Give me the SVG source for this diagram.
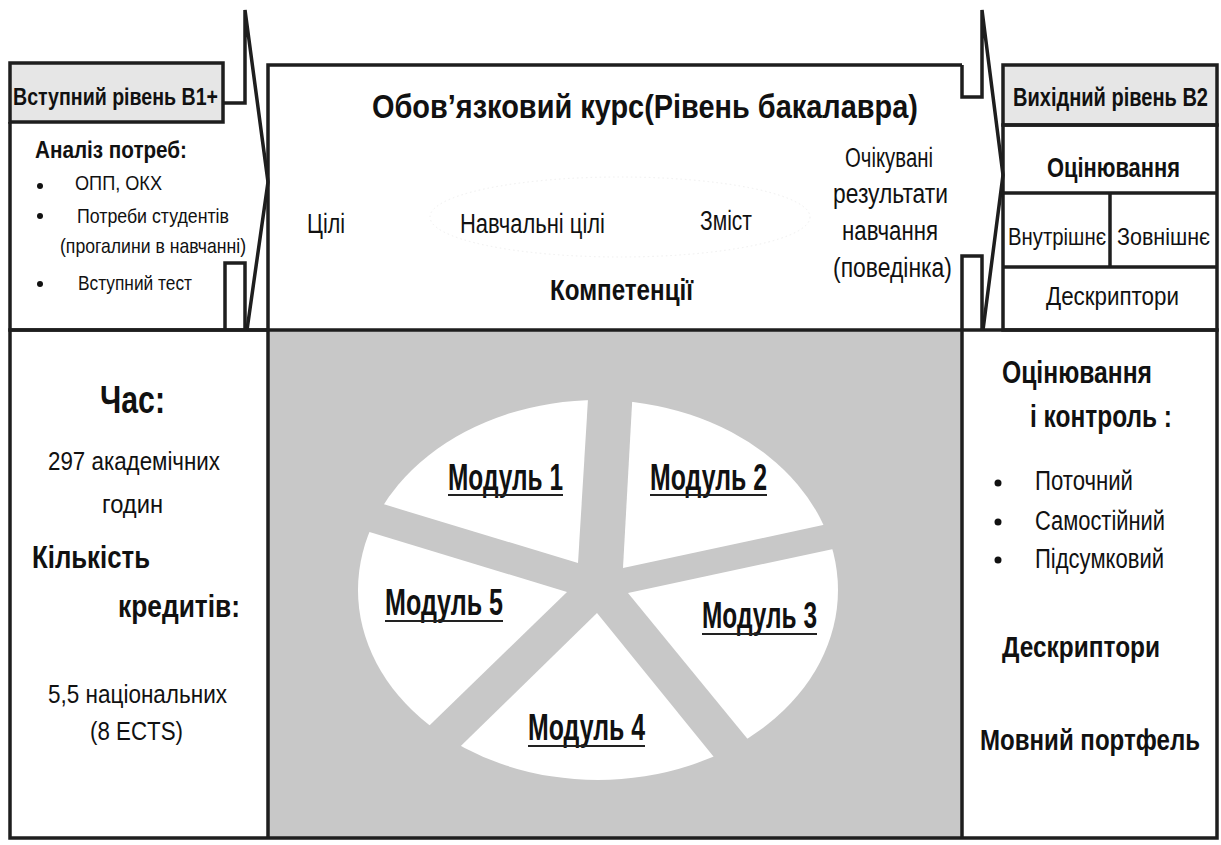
<svg xmlns="http://www.w3.org/2000/svg" width="1221" height="845" viewBox="0 0 1221 845">
<defs>
<style>
.ln{fill:none;stroke:#1e1e1e;stroke-width:3.5;stroke-linejoin:miter}
.bx{stroke:#1e1e1e;stroke-width:3.5}
.t{font-family:"Liberation Sans Narrow","Liberation Sans",Arial,sans-serif;fill:#111}
.b{font-weight:bold}
.ul{stroke:#222;stroke-width:2}
</style>
<clipPath id="pie"><ellipse cx="598" cy="590" rx="240" ry="190"/></clipPath>
</defs>
<rect width="1221" height="845" fill="#fff"/>

<g id="bottom-center">
<rect x="268" y="330" width="694" height="508" fill="#c8c8c8"/>
<g clip-path="url(#pie)" fill="#fff">
<polygon points="578,563 591,350 330,350 330,488"/>
<polygon points="623,568 635,350 870,350 870,515"/>
<polygon points="628,593 870,541 870,820 814,820"/>
<polygon points="597,613 765,820 385,820"/>
<polygon points="567,592 330,520 330,820 332,820"/>
</g>
<g class="t b" font-size="37">
<text x="448" y="490" textLength="115" lengthAdjust="spacingAndGlyphs">Модуль 1</text>
<text x="650" y="490" textLength="117" lengthAdjust="spacingAndGlyphs">Модуль 2</text>
<text x="702" y="628" textLength="115" lengthAdjust="spacingAndGlyphs">Модуль 3</text>
<text x="528" y="740" textLength="117" lengthAdjust="spacingAndGlyphs">Модуль 4</text>
<text x="385" y="615" textLength="118" lengthAdjust="spacingAndGlyphs">Модуль 5</text>
</g>
<line class="ul" x1="448" y1="495" x2="563" y2="495"/>
<line class="ul" x1="650" y1="495" x2="767" y2="495"/>
<line class="ul" x1="702" y1="634" x2="817" y2="634"/>
<line class="ul" x1="528" y1="746" x2="645" y2="746"/>
<line class="ul" x1="385" y1="621" x2="503" y2="621"/>
</g>

<g id="bottom-frame">
<rect class="bx" x="10" y="330" width="1207" height="508" fill="none"/>
<line class="ln" x1="268" y1="330" x2="268" y2="838"/>
<line class="ln" x1="962" y1="330" x2="962" y2="838"/>
</g>

<g id="entry-level">
<rect class="bx" x="10" y="63" width="213" height="59" fill="#e6e6e6"/>
<path class="ln" d="M10,122 V330 H268"/>
<text class="t b" x="13" y="105" font-size="24" textLength="205" lengthAdjust="spacingAndGlyphs">Вступний рівень B1+</text>
<text class="t b" x="35" y="158" font-size="24" textLength="152" lengthAdjust="spacingAndGlyphs">Аналіз потреб:</text>
<g fill="#111"><circle cx="40" cy="186" r="3"/><circle cx="40" cy="216" r="3"/><circle cx="40" cy="284" r="3"/></g>
<text class="t" x="75" y="190" font-size="21" textLength="87" lengthAdjust="spacingAndGlyphs">ОПП, ОКХ</text>
<text class="t" x="77" y="223" font-size="21" textLength="152" lengthAdjust="spacingAndGlyphs">Потреби студентів</text>
<text class="t" x="60" y="253" font-size="21" textLength="186" lengthAdjust="spacingAndGlyphs">(прогалини в навчанні)</text>
<text class="t" x="78" y="290" font-size="21" textLength="114" lengthAdjust="spacingAndGlyphs">Вступний тест</text>
</g>

<g id="course">
<path class="ln" d="M268,330 V65 H962"/>
<ellipse cx="620" cy="217" rx="190" ry="40" fill="none" stroke="#efefef" stroke-width="1" stroke-dasharray="1.5 3"/>
<text class="t b" x="372" y="118" font-size="33" textLength="546" lengthAdjust="spacingAndGlyphs">Обов’язковий курс(Рівень бакалавра)</text>
<text class="t" x="307" y="233" font-size="27" textLength="38" lengthAdjust="spacingAndGlyphs">Цілі</text>
<text class="t" x="460" y="233" font-size="27" textLength="145" lengthAdjust="spacingAndGlyphs">Навчальні цілі</text>
<text class="t" x="700" y="230" font-size="27" textLength="52" lengthAdjust="spacingAndGlyphs">Зміст</text>
<text class="t" x="845" y="167" font-size="27" textLength="88" lengthAdjust="spacingAndGlyphs">Очікувані</text>
<text class="t" x="833" y="203" font-size="27" textLength="115" lengthAdjust="spacingAndGlyphs">результати</text>
<text class="t" x="842" y="240" font-size="27" textLength="96" lengthAdjust="spacingAndGlyphs">навчання</text>
<text class="t" x="833" y="277" font-size="27" textLength="119" lengthAdjust="spacingAndGlyphs">(поведінка)</text>
<text class="t b" x="550" y="300" font-size="30" textLength="143" lengthAdjust="spacingAndGlyphs">Компетенції</text>
</g>

<g id="exit-level">
<rect class="bx" x="1003" y="65" width="214" height="60" fill="#e6e6e6"/>
<rect class="bx" x="1003" y="125" width="214" height="205" fill="none"/>
<line class="ln" x1="1003" y1="193" x2="1217" y2="193"/>
<line class="ln" x1="1003" y1="267" x2="1217" y2="267"/>
<line class="ln" x1="1110" y1="193" x2="1110" y2="267"/>
<text class="t b" transform="translate(1013,106) scale(1,1.4)" x="0" y="0" font-size="19" textLength="195" lengthAdjust="spacingAndGlyphs">Вихідний рівень B2</text>
<text class="t b" x="1047" y="177" font-size="27" textLength="133" lengthAdjust="spacingAndGlyphs">Оцінювання</text>
<text class="t" x="1008" y="245" font-size="24" textLength="98" lengthAdjust="spacingAndGlyphs">Внутрішнє</text>
<text class="t" x="1117" y="245" font-size="24" textLength="93" lengthAdjust="spacingAndGlyphs">Зовнішнє</text>
<text class="t" x="1046" y="305" font-size="25" textLength="133" lengthAdjust="spacingAndGlyphs">Дескриптори</text>
</g>

<g id="time">
<text class="t b" x="100" y="413" font-size="39" textLength="65" lengthAdjust="spacingAndGlyphs">Час:</text>
<text class="t" x="48" y="470" font-size="25" textLength="172" lengthAdjust="spacingAndGlyphs">297 академічних</text>
<text class="t" x="102" y="513" font-size="25" textLength="61" lengthAdjust="spacingAndGlyphs">годин</text>
<text class="t b" x="32" y="568" font-size="31" textLength="118" lengthAdjust="spacingAndGlyphs">Кількість</text>
<text class="t b" x="118" y="617" font-size="31" textLength="122" lengthAdjust="spacingAndGlyphs">кредитів:</text>
<text class="t" x="48" y="703" font-size="25" textLength="179" lengthAdjust="spacingAndGlyphs">5,5 національних</text>
<text class="t" x="90" y="740" font-size="25" textLength="93" lengthAdjust="spacingAndGlyphs">(8 ECTS)</text>
</g>

<g id="assessment">
<text class="t b" x="1002" y="383" font-size="32" textLength="150" lengthAdjust="spacingAndGlyphs">Оцінювання</text>
<text class="t b" x="1030" y="427" font-size="32" textLength="142" lengthAdjust="spacingAndGlyphs">і контроль :</text>
<g fill="#111"><circle cx="998" cy="483" r="3.5"/><circle cx="998" cy="522" r="3.5"/><circle cx="998" cy="560" r="3.5"/></g>
<text class="t" x="1035" y="490" font-size="27" textLength="98" lengthAdjust="spacingAndGlyphs">Поточний</text>
<text class="t" x="1035" y="530" font-size="27" textLength="130" lengthAdjust="spacingAndGlyphs">Самостійний</text>
<text class="t" x="1035" y="568" font-size="27" textLength="129" lengthAdjust="spacingAndGlyphs">Підсумковий</text>
<text class="t b" x="1002" y="657" font-size="29" textLength="158" lengthAdjust="spacingAndGlyphs">Дескриптори</text>
<text class="t b" transform="translate(980,750) scale(1,1.25)" x="0" y="0" font-size="24" textLength="220" lengthAdjust="spacingAndGlyphs">Мовний портфель</text>
</g>

<g id="connectors">
<path class="ln" d="M223,103 H245 V10 L268,182 L247,330"/>
<path class="ln" d="M225,330 V263 H245 V330"/>
<path class="ln" d="M962,65 V97 H982 V10 L1003,175 L983,330"/>
<path class="ln" d="M962,330 V256 H982 V330"/>
</g>
</svg>
